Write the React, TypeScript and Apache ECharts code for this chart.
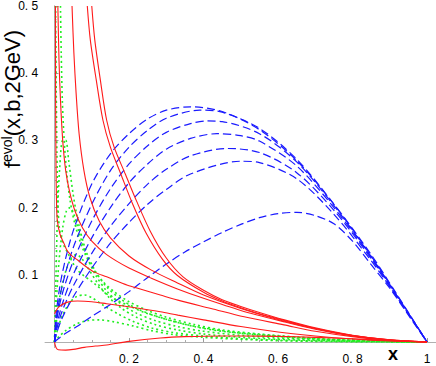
import React, { useEffect, useRef } from "react";
import * as echarts from "echarts";

// ---- data ----
const xTickLabels = [0.2, 0.4, 0.6, 0.8, 1];
const xMinorTicks = [0.05, 0.1, 0.15, 0.25, 0.3, 0.35, 0.45, 0.5, 0.55, 0.65, 0.7, 0.75, 0.85, 0.9, 0.95];
const yTickLabels = [0.1, 0.2, 0.3, 0.4, 0.5];
const yMinorTicks = [0.02, 0.04, 0.06, 0.08, 0.12, 0.14, 0.16, 0.18, 0.22, 0.24, 0.26, 0.28, 0.32, 0.34, 0.36, 0.38, 0.42, 0.44, 0.46, 0.48];

// red solid curves
const red1 = [[0.0025,0.5],[0.003,0.36],[0.004,0.26],[0.0055,0.205],[0.0075,0.181],[0.015,0.16],[0.026,0.146],[0.033,0.137],[0.045,0.129],[0.062,0.122],[0.085,0.112],[0.107,0.104],[0.14,0.097],[0.196,0.0846],[0.23,0.079],[0.284,0.07],[0.331,0.0623],[0.42,0.05],[0.509,0.0376],[0.616,0.0255],[0.7,0.016],[0.8,0.008],[0.9,0.0025],[1,0]];
const red2 = [[0.009,0.5],[0.012,0.42],[0.016,0.36],[0.022,0.3],[0.03,0.255],[0.04,0.225],[0.055,0.195],[0.075,0.17],[0.1,0.15],[0.14,0.13],[0.2,0.11],[0.26,0.095],[0.33,0.079],[0.4,0.065],[0.5,0.047],[0.617,0.03],[0.7,0.019],[0.8,0.009],[0.9,0.003],[1,0]];
const red3 = [[0.047,0.5],[0.052,0.43],[0.058,0.37],[0.066,0.31],[0.079,0.255],[0.095,0.215],[0.12,0.18],[0.15,0.155],[0.2,0.128],[0.26,0.107],[0.33,0.088],[0.4,0.07],[0.5,0.05],[0.617,0.031],[0.7,0.02],[0.8,0.0095],[0.9,0.003],[1,0]];
const red4 = [[0.088,0.5],[0.096,0.45],[0.112,0.39],[0.13,0.33],[0.15,0.29],[0.178,0.25],[0.21,0.205],[0.245,0.163],[0.29,0.123],[0.33,0.099],[0.4,0.074],[0.45,0.061],[0.5,0.051],[0.55,0.042],[0.617,0.032],[0.7,0.02],[0.8,0.0097],[0.9,0.0032],[1,0]];
const red5 = [[0.1,0.5],[0.108,0.45],[0.123,0.39],[0.14,0.33],[0.16,0.29],[0.19,0.25],[0.22,0.21],[0.257,0.165],[0.3,0.125],[0.345,0.097],[0.4,0.077],[0.45,0.063],[0.5,0.053],[0.55,0.044],[0.617,0.033],[0.7,0.021],[0.8,0.01],[0.9,0.0033],[1,0]];
const red6 = [[0,0.042],[0.011,0.052],[0.033,0.059],[0.062,0.061],[0.1,0.06],[0.14,0.057],[0.23,0.05],[0.284,0.045],[0.331,0.04],[0.4,0.033],[0.5,0.023],[0.6,0.015],[0.7,0.009],[0.8,0.0045],[0.9,0.0015],[1,0]];
const red7 = [[0,0],[0.004,-0.008],[0.01,-0.0115],[0.03,-0.012],[0.05,-0.011],[0.08,-0.008],[0.11,-0.006],[0.14,-0.0045],[0.2,0.001],[0.284,0.006],[0.35,0.008],[0.45,0.009],[0.55,0.0088],[0.65,0.0078],[0.75,0.006],[0.85,0.0035],[0.93,0.0015],[1,0]];

// blue dashed curves
const blue1 = [[0,0],[0.005,0.045],[0.02,0.1],[0.05,0.165],[0.1,0.235],[0.15,0.28],[0.2,0.31],[0.25,0.332],[0.3,0.345],[0.365,0.35],[0.45,0.343],[0.55,0.316],[0.65,0.27],[0.75,0.205],[0.85,0.13],[0.92,0.07],[1,0]];
const blue2 = [[0,0],[0.005,0.035],[0.02,0.082],[0.05,0.14],[0.1,0.205],[0.15,0.255],[0.2,0.29],[0.25,0.315],[0.3,0.333],[0.39,0.345],[0.45,0.342],[0.55,0.318],[0.65,0.272],[0.75,0.205],[0.85,0.128],[0.92,0.069],[1,0]];
const blue3 = [[0,0],[0.005,0.03],[0.02,0.07],[0.05,0.12],[0.1,0.18],[0.15,0.228],[0.2,0.265],[0.25,0.292],[0.3,0.312],[0.365,0.325],[0.41,0.329],[0.45,0.328],[0.55,0.31],[0.65,0.268],[0.75,0.203],[0.85,0.127],[0.92,0.068],[1,0]];
const blue4 = [[0,0],[0.005,0.022],[0.02,0.055],[0.05,0.1],[0.1,0.155],[0.15,0.2],[0.2,0.237],[0.25,0.265],[0.3,0.287],[0.365,0.303],[0.436,0.31],[0.5,0.307],[0.55,0.299],[0.65,0.262],[0.75,0.2],[0.85,0.126],[0.92,0.068],[1,0]];
const blue5 = [[0,0],[0.005,0.017],[0.02,0.045],[0.05,0.083],[0.1,0.132],[0.15,0.172],[0.2,0.206],[0.25,0.235],[0.3,0.257],[0.365,0.277],[0.463,0.288],[0.55,0.282],[0.65,0.252],[0.75,0.196],[0.85,0.124],[0.92,0.067],[1,0]];
const blue6 = [[0,0],[0.005,0.012],[0.02,0.035],[0.05,0.067],[0.1,0.11],[0.15,0.147],[0.2,0.178],[0.25,0.205],[0.3,0.227],[0.365,0.25],[0.5,0.269],[0.55,0.267],[0.65,0.243],[0.75,0.19],[0.85,0.121],[0.92,0.066],[1,0]];
const blue7 = [[0,0],[0.01,0.005],[0.03,0.013],[0.06,0.023],[0.1,0.038],[0.15,0.056],[0.2,0.075],[0.25,0.096],[0.3,0.116],[0.35,0.134],[0.4,0.149],[0.45,0.163],[0.5,0.175],[0.55,0.185],[0.6,0.191],[0.65,0.193],[0.7,0.188],[0.75,0.176],[0.8,0.15],[0.85,0.115],[0.9,0.08],[0.95,0.04],[1,0]];

// green dotted curves
const green1 = [[0.003,0.5],[0.0045,0.38],[0.0065,0.28],[0.009,0.21],[0.013,0.17],[0.022,0.148],[0.036,0.132],[0.062,0.107],[0.107,0.087],[0.152,0.067],[0.2,0.054],[0.241,0.044],[0.3,0.034],[0.375,0.023],[0.45,0.016],[0.55,0.011],[0.616,0.008],[0.7,0.005],[0.8,0.0025],[0.9,0.001],[1,0]];
const green2 = [[0.016,0.5],[0.018,0.43],[0.021,0.36],[0.026,0.3],[0.033,0.25],[0.042,0.21],[0.055,0.175],[0.075,0.14],[0.1,0.112],[0.13,0.09],[0.16,0.075],[0.2,0.06],[0.25,0.047],[0.3,0.037],[0.375,0.026],[0.45,0.018],[0.55,0.012],[0.65,0.0075],[0.75,0.004],[0.85,0.002],[1,0]];
const green3 = [[0,0],[0.004,0.1],[0.008,0.19],[0.014,0.26],[0.022,0.3],[0.03,0.3],[0.038,0.27],[0.05,0.22],[0.065,0.175],[0.085,0.135],[0.11,0.105],[0.14,0.082],[0.18,0.063],[0.22,0.05],[0.27,0.039],[0.33,0.029],[0.4,0.021],[0.5,0.013],[0.6,0.008],[0.7,0.0045],[0.8,0.0022],[0.9,0.0008],[1,0]];
const green4 = [[0,0],[0.005,0.06],[0.012,0.12],[0.022,0.17],[0.032,0.195],[0.042,0.2],[0.052,0.19],[0.065,0.165],[0.085,0.13],[0.11,0.1],[0.14,0.076],[0.18,0.056],[0.22,0.043],[0.27,0.032],[0.33,0.023],[0.4,0.016],[0.5,0.01],[0.6,0.006],[0.7,0.0035],[0.8,0.0017],[1,0]];
const green5 = [[0,0],[0.006,0.035],[0.015,0.07],[0.03,0.105],[0.045,0.125],[0.058,0.13],[0.072,0.125],[0.09,0.11],[0.115,0.088],[0.145,0.067],[0.18,0.05],[0.22,0.037],[0.27,0.026],[0.33,0.018],[0.4,0.012],[0.5,0.007],[0.6,0.004],[0.7,0.0022],[0.8,0.001],[1,0]];
const green6 = [[0,0],[0.008,0.018],[0.02,0.038],[0.04,0.058],[0.06,0.068],[0.08,0.07],[0.1,0.066],[0.13,0.055],[0.17,0.042],[0.21,0.031],[0.26,0.021],[0.32,0.014],[0.4,0.009],[0.5,0.005],[0.6,0.0028],[0.7,0.0015],[0.8,0.0007],[1,0]];
const green7 = [[0,0],[0.01,0.007],[0.03,0.017],[0.06,0.027],[0.09,0.032],[0.12,0.033],[0.16,0.03],[0.21,0.024],[0.26,0.017],[0.32,0.011],[0.4,0.007],[0.5,0.004],[0.6,0.002],[0.7,0.001],[1,0]];

const redCurves = [red1, red2, red3, red4, red5, red6, red7];
const blueCurves = [blue1, blue2, blue3, blue4, blue5, blue6, blue7];
const greenCurves = [green1, green2, green3, green4, green5, green6, green7];

const FONT = "Liberation Sans, Arial, sans-serif";
const X_MIN = -0.025;
const X_MAX = 1.024;
const Y_MIN = -0.008;
const Y_MAX = 0.5;

const fmt = (v: number) => (Math.abs(v - 1) < 1e-9 ? "1" : "0. " + Math.round(v * 10));

export default function App() {
  const ref = useRef<HTMLDivElement>(null);
  useEffect(() => {
    if (!ref.current) return;
    const chart = echarts.init(ref.current, undefined, { renderer: "svg" });
    const axisLine = { onZero: true, lineStyle: { color: "#b0b0b0", width: 1 } };
    const mk = (data: number[][], color: string, type: any, width: number, z: number) => ({
      type: "line",
      data,
      showSymbol: false,
      symbol: "none",
      smooth: 0.3,
      clip: false,
      silent: true,
      z,
      lineStyle: { color, width, type },
    });
    const series: any[] = [];
    greenCurves.forEach((c) => series.push(mk(c, "#22ee22", [2, 3], 1.6, 2)));
    blueCurves.forEach((c) => series.push(mk(c, "#1a1aff", [8, 4], 1.2, 3)));
    redCurves.forEach((c) => series.push(mk(c, "#ff1a1a", "solid", 1.1, 4)));

    chart.setOption({
      animation: false,
      backgroundColor: "#ffffff",
      grid: { left: 45.2, top: 5, width: 390.8, height: 342.4, containLabel: false },
      xAxis: [
        {
          type: "value", min: X_MIN, max: X_MAX, position: "bottom",
          axisLine,
          axisTick: { show: true, inside: true, length: 4, customValues: xTickLabels, lineStyle: { color: "#999" } },
          axisLabel: { show: true, customValues: xTickLabels, formatter: fmt, color: "#000", fontSize: 12, fontFamily: FONT, margin: 6 },
          splitLine: { show: false },
        },
        {
          type: "value", min: X_MIN, max: X_MAX, position: "bottom",
          axisLine,
          axisTick: { show: true, inside: true, length: 2, customValues: xMinorTicks, lineStyle: { color: "#aaa" } },
          axisLabel: { show: false },
          splitLine: { show: false },
        },
      ],
      yAxis: [
        {
          type: "value", min: Y_MIN, max: Y_MAX, position: "left",
          axisLine,
          axisTick: { show: true, inside: true, length: 4, customValues: yTickLabels, lineStyle: { color: "#999" } },
          axisLabel: { show: true, customValues: yTickLabels, formatter: fmt, color: "#000", fontSize: 12, fontFamily: FONT, margin: 7 },
          splitLine: { show: false },
        },
        {
          type: "value", min: Y_MIN, max: Y_MAX, position: "left",
          axisLine,
          axisTick: { show: true, inside: true, length: 2, customValues: yMinorTicks, lineStyle: { color: "#aaa" } },
          axisLabel: { show: false },
          splitLine: { show: false },
        },
      ],
      series,
      graphic: [
        {
          type: "text",
          x: 12,
          y: 99,
          rotation: Math.PI / 2,
          style: {
            text: "{f|f}{s|evol}{m|(x,b,2GeV)}",
            align: "center",
            verticalAlign: "middle",
            fill: "#000",
            rich: {
              f: { fontSize: 22, fontFamily: FONT, lineHeight: 24, fill: "#000" },
              s: { fontSize: 14, fontFamily: FONT, lineHeight: 24, verticalAlign: "top", fill: "#000" },
              m: { fontSize: 22, fontFamily: FONT, lineHeight: 24, fill: "#000" },
            },
          },
        },
        {
          type: "text",
          x: 393,
          y: 354,
          style: { text: "x", fontSize: 18, fontWeight: "bold", fontFamily: FONT, fill: "#000", align: "center", verticalAlign: "middle", lineHeight: 18 },
        },
      ],
    });
    return () => chart.dispose();
  }, []);
  return <div ref={ref} style={{ position: "fixed", left: 0, top: 0, width: 436, height: 366 }} />;
}
